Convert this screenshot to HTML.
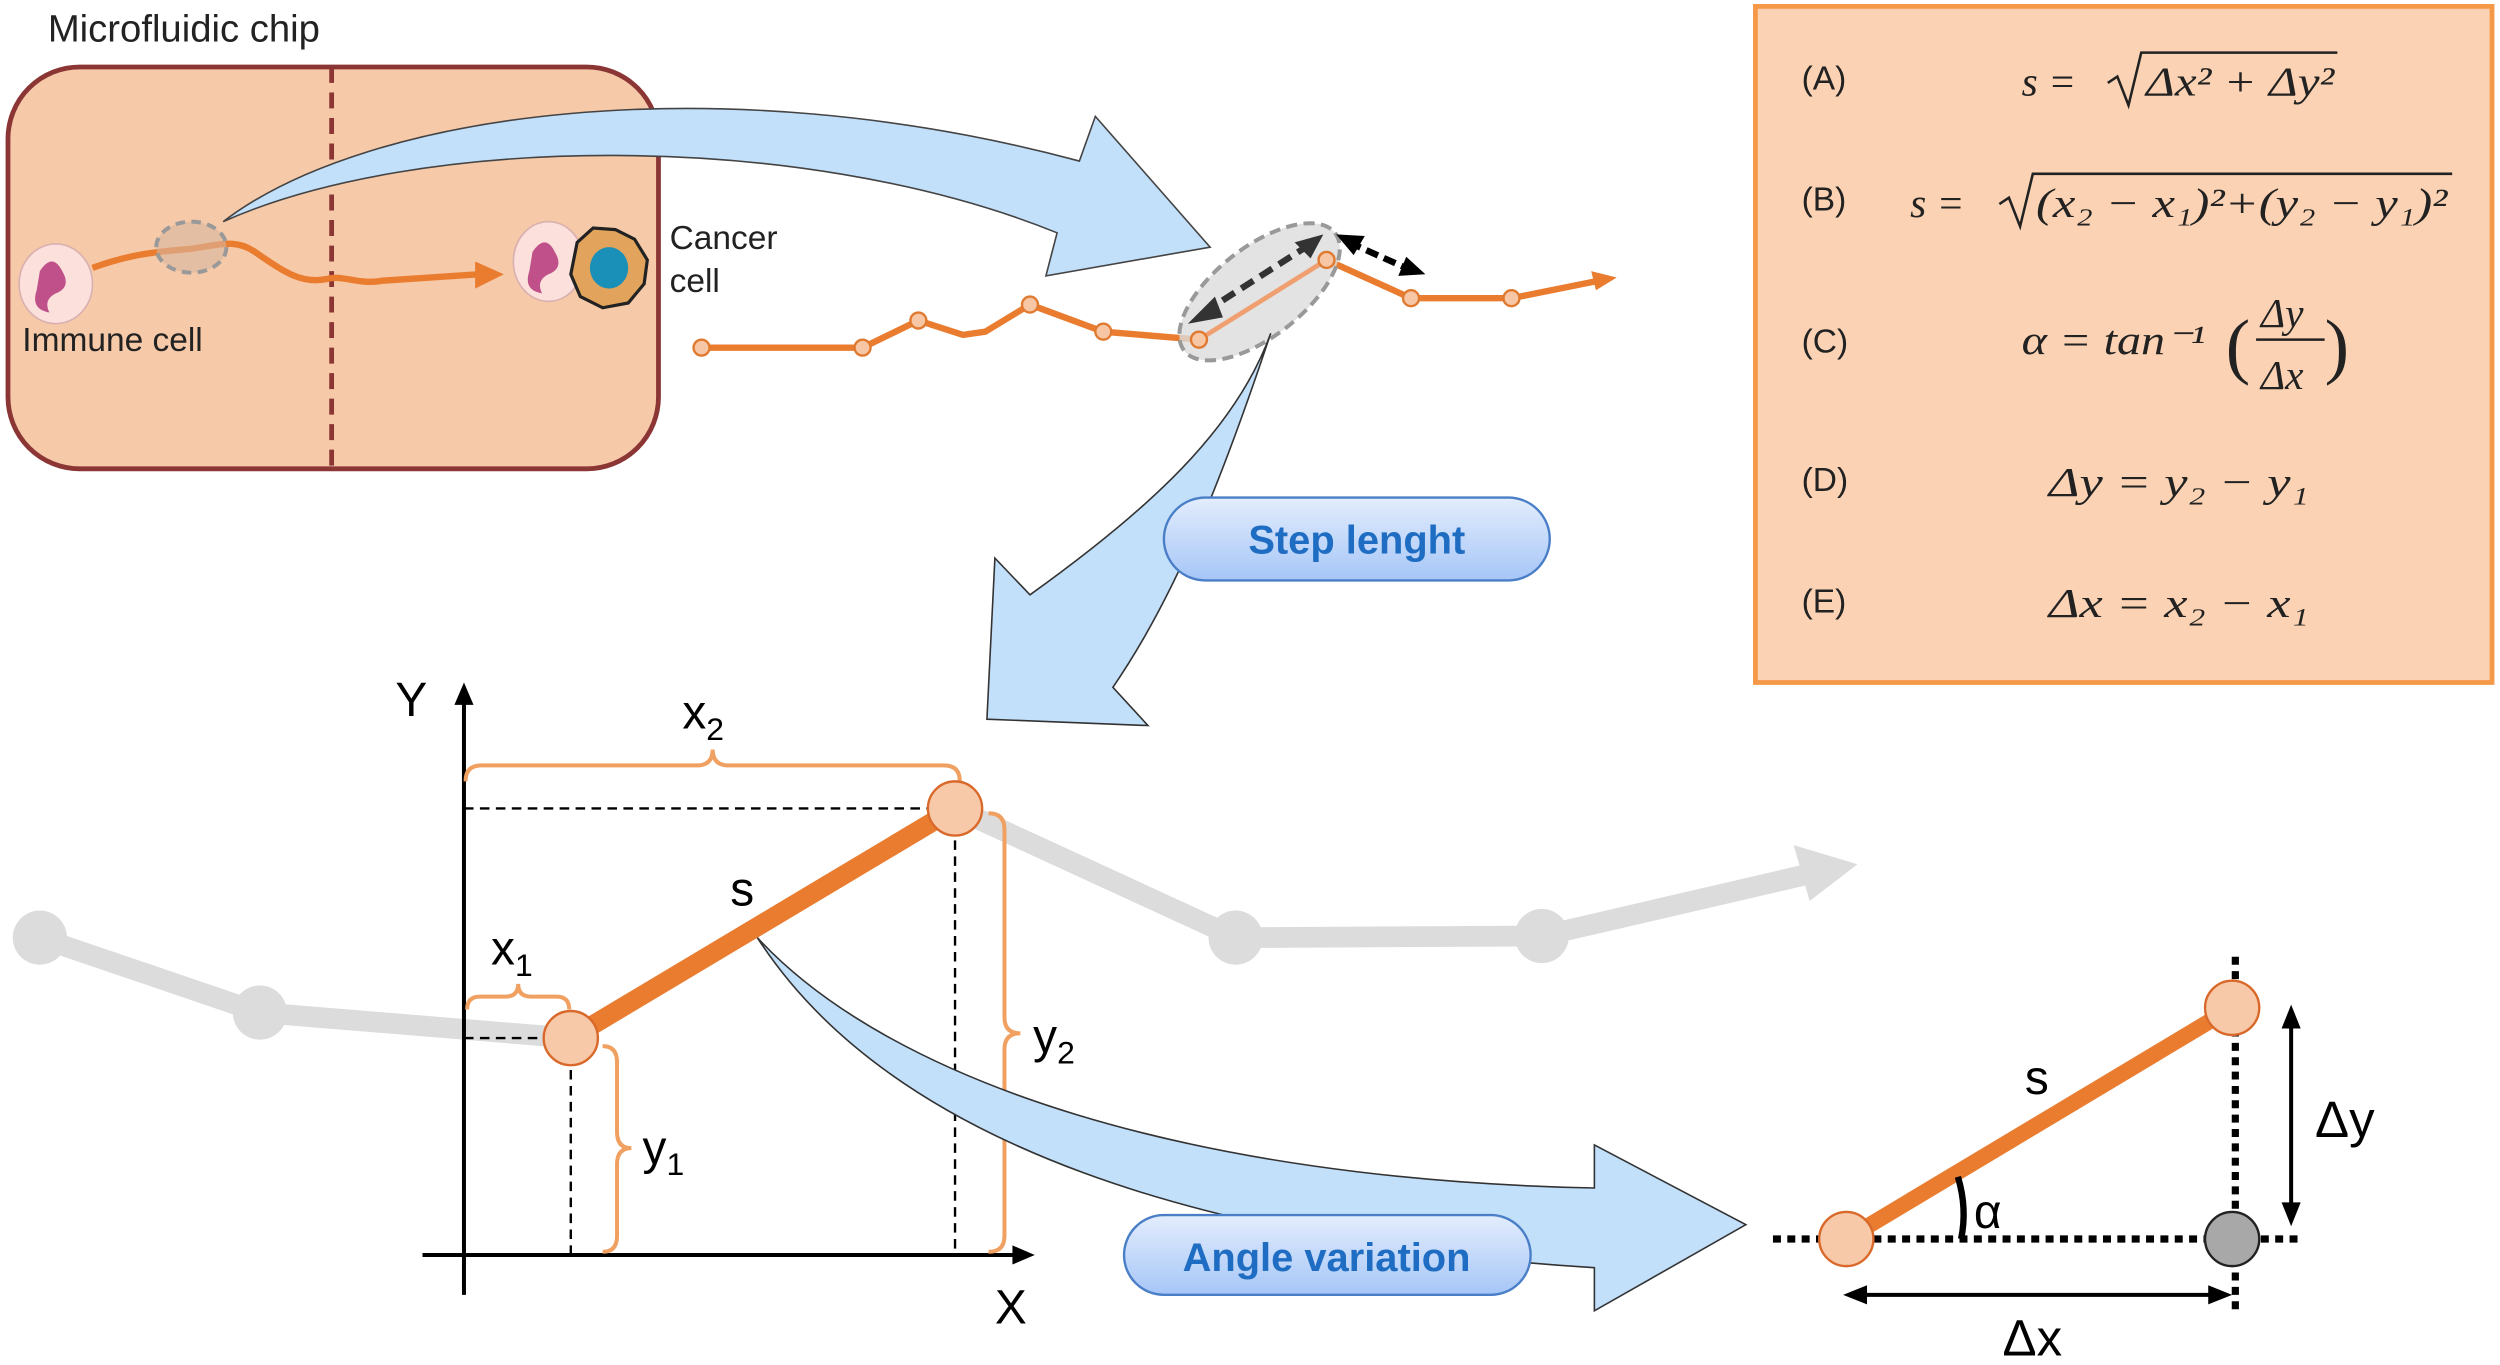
<!DOCTYPE html>
<html><head><meta charset="utf-8"><style>
html,body{margin:0;padding:0;background:#fff;}
svg{display:block;}
text{font-family:"Liberation Sans",sans-serif;}
.m{font-family:"Liberation Serif",serif;font-style:italic;font-size:26px;fill:#222;}
.l{font-family:"Liberation Sans",sans-serif;font-size:21px;fill:#222;}
</style></head><body>
<svg width="2500" height="1365" viewBox="0 0 1568 856" preserveAspectRatio="none" xmlns="http://www.w3.org/2000/svg">
<defs>
<linearGradient id="pg" x1="0" y1="0" x2="0" y2="1"><stop offset="0" stop-color="#e3edfd"/><stop offset="1" stop-color="#a6c6f7"/></linearGradient>
</defs>

<!-- chip -->
<text x="30" y="26" font-size="24" fill="#222">Microfluidic chip</text>
<rect x="5" y="42" width="408" height="252" rx="45" fill="#f6c9a8" stroke="#8b3535" stroke-width="3"/>
<line x1="208" y1="42" x2="208" y2="294" stroke="#8b3535" stroke-width="3" stroke-dasharray="10,6"/>
<path d="M58,168 C80,160 95,158 120,156 C140,153 148,150 160,158 C180,172 190,178 205,175 C215,172 225,179 240,176 L300,172" fill="none" stroke="#ea7c2f" stroke-width="4"/>
<path d="M298,164 L316,172 L298,181 Z" fill="#ea7c2f"/>
<ellipse cx="120" cy="155" rx="22" ry="16" fill="#d8b8a0" fill-opacity="0.6" stroke="#999" stroke-width="2.5" stroke-dasharray="6,4"/>
<ellipse cx="35" cy="178" rx="23" ry="25" fill="#fbe0dc" stroke="#d9b0b0"/>
<path d="M25,170 q8,-12 14,0 q6,10 -4,14 q-8,4 -4,12 q-12,-2 -8,-14 z" fill="#c0508a"/>
<ellipse cx="344" cy="164" rx="22" ry="25" fill="#fbe0dc" stroke="#d9b0b0"/>
<path d="M334,158 q8,-12 14,0 q6,10 -4,14 q-8,4 -4,12 q-12,-2 -8,-14 z" fill="#c0508a"/>
<path d="M362,152 L372,143 L386,144 L398,150 L406,163 L404,178 L394,190 L378,193 L364,186 L358,172 Z" fill="#e2a45c" stroke="#222" stroke-width="2"/>
<ellipse cx="382" cy="168" rx="12" ry="13" fill="#1a90b8"/>
<text x="420" y="156" font-size="21" fill="#222">Cancer</text>
<text x="420" y="183" font-size="21" fill="#222">cell</text>
<text x="14" y="220" font-size="21" fill="#222">Immune cell</text>

<!-- top blue arrow -->
<path d="M140,139 C230,70 450,40 677,101 L687,73 L759,155 L656,173 L663,146 C500,80 260,85 140,139 Z" fill="#c3e0fb" stroke="#444" stroke-width="1"/>

<!-- track -->
<polyline points="440,218 541,218 576,201 604,210 618,208 646,191 692,208 752,213" fill="none" stroke="#ea7c2f" stroke-width="4"/>
<polyline points="832,163 885,187 948,187 1003,176" fill="none" stroke="#ea7c2f" stroke-width="4"/>
<path d="M998,170 L1014,174 L1001,182 Z" fill="#ea7c2f"/>
<ellipse cx="790" cy="183" rx="60" ry="28" transform="rotate(-38 790 183)" fill="#dcdcdc" fill-opacity="0.8" stroke="#999" stroke-width="2.5" stroke-dasharray="7,4"/>
<line x1="752" y1="213" x2="832" y2="163" stroke="#f0a070" stroke-width="3"/>
<g fill="#f7c6a4" stroke="#e07a30" stroke-width="1.5">
<circle cx="440" cy="218" r="5"/><circle cx="541" cy="218" r="5"/><circle cx="576" cy="201" r="5"/><circle cx="646" cy="191" r="5"/><circle cx="692" cy="208" r="5"/><circle cx="752" cy="213" r="5"/><circle cx="832" cy="163" r="5"/><circle cx="885" cy="187" r="5"/><circle cx="948" cy="187" r="5"/>
</g>
<line x1="755" y1="196" x2="822" y2="153" stroke="#333" stroke-width="4" stroke-dasharray="9,5"/>
<path d="M745,203 L762,186 L767,199 Z" fill="#333"/>
<path d="M830,147 L812,152 L822,162 Z" fill="#333"/>
<line x1="846" y1="152" x2="884" y2="169" stroke="#000" stroke-width="4" stroke-dasharray="8,4"/>
<path d="M838,147 L856,148 L849,160 Z" fill="#000"/>
<path d="M894,172 L877,173 L882,161 Z" fill="#000"/>

<!-- down arrow -->
<path d="M797,209 C770,290 740,370 698,431 L720,455 L619,451 L624,350 L646,373 C720,320 775,270 797,209 Z" fill="#c3e0fb" stroke="#333" stroke-width="1"/>
<rect x="730" y="312" width="242" height="52" rx="26" fill="url(#pg)" stroke="#4a7fc8" stroke-width="1.5"/>
<text x="851" y="347" font-size="25" font-weight="bold" fill="#1f6dc2" text-anchor="middle">Step lenght</text>

<!-- formula box -->
<rect x="1101" y="4" width="462" height="424" fill="#fbd3b4" stroke="#f59848" stroke-width="3"/>
<g class="l"><text x="1130" y="56">(A)</text><text x="1130" y="132">(B)</text><text x="1130" y="221">(C)</text><text x="1130" y="308">(D)</text><text x="1130" y="384">(E)</text></g>
<g fill="none" stroke="#222" stroke-width="1.6">
<path d="M1322,52 L1328,48 L1335,66 L1343,33 L1466,33"/>
<path d="M1254,128 L1260,124 L1267,142 L1275,109 L1538,109"/>
<line x1="1415" y1="213" x2="1458" y2="213"/>
</g>
<text class="m" x="1268" y="60">s =</text>
<text class="m" x="1346" y="60" textLength="118" lengthAdjust="spacingAndGlyphs">Δx² + Δy²</text>
<text class="m" x="1198" y="136">s =</text>
<text class="m" x="1277" y="136" textLength="258" lengthAdjust="spacingAndGlyphs">(x₂ − x₁)²+(y₂ − y₁)²</text>
<text class="m" x="1268" y="222" textLength="115" lengthAdjust="spacingAndGlyphs">α = tan⁻¹</text>
<text class="m" x="1396" y="232" style="font-size:46px;font-style:normal">(</text>
<text class="m" x="1418" y="205">Δy</text>
<text class="m" x="1418" y="244">Δx</text>
<text class="m" x="1458" y="232" style="font-size:46px;font-style:normal">)</text>
<text class="m" x="1285" y="311" textLength="163" lengthAdjust="spacingAndGlyphs">Δy = y₂ − y₁</text>
<text class="m" x="1285" y="387" textLength="163" lengthAdjust="spacingAndGlyphs">Δx = x₂ − x₁</text>

<!-- gray track -->
<polyline points="25,588 163,635 358,651" fill="none" stroke="#dcdcdc" stroke-width="13"/>
<polyline points="599,507 775,588 967,587 1135,548" fill="none" stroke="#dcdcdc" stroke-width="13"/>
<path d="M1125,530 L1165,542 L1135,565 Z" fill="#dcdcdc"/>
<g fill="#dcdcdc"><circle cx="25" cy="588" r="17"/><circle cx="163" cy="635" r="17"/><circle cx="775" cy="588" r="17"/><circle cx="967" cy="587" r="17"/></g>

<!-- axes -->
<line x1="291" y1="812" x2="291" y2="435" stroke="#000" stroke-width="2.5"/>
<path d="M285,442 L291,428 L297,442 Z" fill="#000"/>
<line x1="265" y1="787" x2="640" y2="787" stroke="#000" stroke-width="2.5"/>
<path d="M635,781 L649,787 L635,793 Z" fill="#000"/>
<text x="248" y="449" font-size="30" fill="#000">Y</text>
<text x="624" y="830" font-size="30" fill="#000">X</text>
<g stroke="#000" stroke-width="1.5" stroke-dasharray="6,4" fill="none">
<line x1="291" y1="507" x2="599" y2="507"/><line x1="599" y1="507" x2="599" y2="787"/>
<line x1="358" y1="651" x2="358" y2="787"/><line x1="291" y1="651" x2="358" y2="651"/>
</g>
<g fill="none" stroke="#f0a060" stroke-width="2.5">
<path d="M292,490 Q292,480 302,480 L437,480 Q447,480 447,470 Q447,480 457,480 L592,480 Q602,480 602,490"/>
<path d="M293,633 Q293,625 301,625 L317,625 Q325,625 325,617 Q325,625 333,625 L349,625 Q357,625 357,633"/>
<path d="M620,510 Q630,510 630,520 L630,638 Q630,648 640,648 Q630,648 630,658 L630,775 Q630,785 620,785"/>
<path d="M378,656 Q387,656 387,666 L387,710 Q387,720 396,720 Q387,720 387,730 L387,775 Q387,785 378,785"/>
</g>
<text x="428" y="457" font-size="30" fill="#000">x<tspan font-size="20" dy="7">2</tspan></text>
<text x="308" y="605" font-size="30" fill="#000">x<tspan font-size="20" dy="7">1</tspan></text>
<text x="648" y="660" font-size="30" fill="#000">y<tspan font-size="20" dy="7">2</tspan></text>
<text x="403" y="730" font-size="30" fill="#000">y<tspan font-size="20" dy="7">1</tspan></text>
<line x1="358" y1="651" x2="599" y2="507" stroke="#ea7c2f" stroke-width="12"/>
<g fill="#f8c9a8" stroke="#d9692a" stroke-width="1.5"><circle cx="358" cy="651" r="17"/><circle cx="599" cy="507" r="17"/></g>
<text x="458" y="568" font-size="30" fill="#000">s</text>

<!-- angle arrow -->
<path d="M475,588 C560,680 750,740 1000,745 L1000,718 L1095,768 L1000,822 L1000,795 C760,780 560,720 475,588 Z" fill="#c3e0fb" stroke="#333" stroke-width="1"/>
<rect x="705" y="762" width="255" height="50" rx="25" fill="url(#pg)" stroke="#4a7fc8" stroke-width="1.5"/>
<text x="832" y="797" font-size="25" font-weight="bold" fill="#1f6dc2" text-anchor="middle">Angle variation</text>

<!-- right triangle -->
<g stroke="#000" stroke-width="4.5" stroke-dasharray="5,4" fill="none">
<line x1="1112" y1="777" x2="1445" y2="777"/><line x1="1402" y1="600" x2="1402" y2="822"/>
</g>
<line x1="1158" y1="777" x2="1400" y2="632" stroke="#ea7c2f" stroke-width="10"/>
<g fill="#f8c9a8" stroke="#d9692a" stroke-width="1.5"><circle cx="1158" cy="777" r="17"/><circle cx="1400" cy="632" r="17"/></g>
<circle cx="1400" cy="777" r="17" fill="#a8a8a8" stroke="#222" stroke-width="1.5"/>
<path d="M1228,738 Q1234,758 1230,777" fill="none" stroke="#000" stroke-width="4"/>
<text x="1238" y="770" font-size="30" fill="#000">α</text>
<text x="1270" y="686" font-size="30" fill="#000">s</text>
<line x1="1437" y1="642" x2="1437" y2="757" stroke="#000" stroke-width="2.5"/>
<path d="M1431,645 L1437,630 L1443,645 Z M1431,754 L1437,769 L1443,754 Z" fill="#000"/>
<text x="1452" y="713" font-size="32" fill="#000">Δy</text>
<line x1="1168" y1="812" x2="1388" y2="812" stroke="#000" stroke-width="2.5"/>
<path d="M1171,806 L1156,812 L1171,818 Z M1385,806 L1400,812 L1385,818 Z" fill="#000"/>
<text x="1256" y="850" font-size="32" fill="#000">Δx</text>
</svg>
</body></html>
